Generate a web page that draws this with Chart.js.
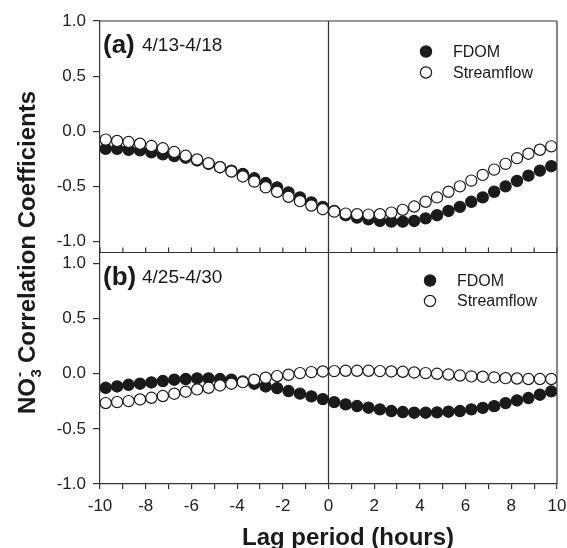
<!DOCTYPE html>
<html>
<head>
<meta charset="utf-8">
<script src="https://cdn.jsdelivr.net/npm/chart.js@4.4.0/dist/chart.umd.min.js"></script>
<style>
html, body { margin: 0; padding: 0; background: #ffffff; }
canvas { display: block; }
</style>
</head>
<body>
<canvas id="c" width="567" height="548"></canvas>
<script>
// ---------------- data ----------------
const lagHours = [-9.75, -9.25, -8.75, -8.25, -7.75, -7.25, -6.75, -6.25, -5.75, -5.25,
                  -4.75, -4.25, -3.75, -3.25, -2.75, -2.25, -1.75, -1.25, -0.75, -0.25,
                   0.25,  0.75,  1.25,  1.75,  2.25,  2.75,  3.25,  3.75,  4.25,  4.75,
                   5.25,  5.75,  6.25,  6.75,  7.25,  7.75,  8.25,  8.75,  9.25,  9.75];

const fdomA = [-0.159, -0.159, -0.168, -0.174, -0.192, -0.210, -0.226, -0.240, -0.265, -0.296,
               -0.326, -0.357, -0.387, -0.427, -0.470, -0.509, -0.555, -0.600, -0.646, -0.686,
               -0.722, -0.762, -0.784, -0.799, -0.814, -0.820, -0.820, -0.814, -0.790, -0.762,
               -0.723, -0.686, -0.640, -0.600, -0.549, -0.500, -0.451, -0.403, -0.357, -0.317];

const streamA = [-0.076, -0.088, -0.098, -0.113, -0.134, -0.155, -0.189, -0.223, -0.256, -0.290,
                 -0.326, -0.366, -0.410, -0.457, -0.509, -0.549, -0.595, -0.634, -0.674, -0.707,
                 -0.729, -0.747, -0.753, -0.756, -0.753, -0.738, -0.713, -0.683, -0.640, -0.600,
                 -0.549, -0.500, -0.448, -0.396, -0.348, -0.296, -0.244, -0.204, -0.168, -0.137];

const fdomB = [-0.127, -0.115, -0.100, -0.090, -0.079, -0.066, -0.054, -0.048, -0.042, -0.042,
               -0.048, -0.054, -0.070, -0.090, -0.115, -0.130, -0.157, -0.180, -0.205, -0.230,
               -0.257, -0.278, -0.293, -0.308, -0.323, -0.338, -0.347, -0.353, -0.353, -0.350,
               -0.344, -0.338, -0.323, -0.309, -0.294, -0.266, -0.242, -0.220, -0.190, -0.160];

const streamB = [-0.266, -0.257, -0.248, -0.233, -0.218, -0.202, -0.181, -0.163, -0.142, -0.127,
                 -0.106, -0.090, -0.076, -0.054, -0.036, -0.021, -0.009,  0.006,  0.015,  0.021,
                  0.024,  0.027,  0.027,  0.027,  0.024,  0.021,  0.018,  0.012,  0.006,  0.000,
                 -0.007, -0.016, -0.024, -0.027, -0.033, -0.040, -0.043, -0.048, -0.048, -0.048];

const xTickValues = [-10, -9, -8, -7, -6, -5, -4, -3, -2, -1, 0, 1, 2, 3, 4, 5, 6, 7, 8, 9, 10];
const xTickLabels = ['-10', '', '-8', '', '-6', '', '-4', '', '-2', '', '0', '', '2', '', '4', '', '6', '', '8', '', '10'];
const yTickValues = [-1.0, -0.5, 0.0, 0.5, 1.0];
const yTickLabels = ['-1.0', '-0.5', '0.0', '0.5', '1.0'];

const seriesNames = ['FDOM', 'Streamflow'];
const panelTags = ['(a)', '(b)'];
const panelDates = ['4/13-4/18', '4/25-4/30'];
const xTitle = 'Lag period (hours)';
const yTitleMain = 'NO';
const yTitleSub = '3';
const yTitleSup = '-';
const yTitleRest = ' Correlation Coefficients';

// ---------------- styling ----------------
const FONT = '"Liberation Sans", Arial, Helvetica, sans-serif';
const INK = '#1a1a1a';
const AXIS = '#333333';

function pts(ys) { return lagHours.map((x, i) => ({ x: x, y: ys[i] })); }

function filledSet(label, ys, axis) {
  return { label, data: pts(ys), yAxisID: axis, showLine: false, order: 1,
    pointStyle: 'circle', pointRadius: 5.6, pointHoverRadius: 5.6,
    pointBackgroundColor: INK, pointBorderColor: INK, pointBorderWidth: 1.2 };
}
function openSet(label, ys, axis) {
  return { label, data: pts(ys), yAxisID: axis, showLine: false, order: 0,
    pointStyle: 'circle', pointRadius: 5.6, pointHoverRadius: 5.6,
    pointBackgroundColor: '#ffffff', pointBorderColor: INK, pointBorderWidth: 1.2 };
}

function yScale(min, max, weight) {
  return {
    type: 'linear', position: 'left', stack: 'panels', stackWeight: 1, weight: weight,
    min: min, max: max,
    afterBuildTicks: s => { s.ticks = yTickValues.map(v => ({ value: v })); },
    afterFit: s => { s.width = 100; },
    ticks: { callback: (v) => yTickLabels[yTickValues.indexOf(v)] ?? '', color: '#222',
             font: { family: FONT, size: 17 }, padding: 7 },
    grid: { display: true, drawOnChartArea: false, drawTicks: true, tickLength: 7, color: AXIS, lineWidth: 1.2 },
    border: { display: true, color: AXIS, width: 1.2 }
  };
}

const framePlugin = {
  id: 'frame',
  beforeDatasetsDraw(chart) {
    const ctx = chart.ctx, ca = chart.chartArea, xs = chart.scales.x;
    const x0 = xs.getPixelForValue(0);
    ctx.save();
    ctx.strokeStyle = AXIS; ctx.lineWidth = 1.2;
    ctx.beginPath(); ctx.moveTo(x0, ca.top); ctx.lineTo(x0, ca.bottom); ctx.stroke();
    ctx.restore();
  },
  afterDraw(chart) {
    const ctx = chart.ctx, ca = chart.chartArea;
    const xs = chart.scales.x, ya = chart.scales.yA, yb = chart.scales.yB;
    ctx.save();
    ctx.strokeStyle = AXIS; ctx.lineWidth = 1.2;
    const line = (x1, y1, x2, y2) => { ctx.beginPath(); ctx.moveTo(x1, y1); ctx.lineTo(x2, y2); ctx.stroke(); };
    line(ca.left, ca.top, ca.right, ca.top);
    line(ca.right, ca.top, ca.right, ca.bottom);
    const yDiv = ya.bottom;
    line(ca.left, yDiv, ca.right, yDiv);
    xTickValues.forEach(v => { const px = xs.getPixelForValue(v); line(px, yDiv, px, yDiv - 5); });

    // panel labels
    ctx.fillStyle = INK;
    ctx.textAlign = 'left'; ctx.textBaseline = 'middle';
    const panels = [ya, yb];
    panels.forEach((sc, i) => {
      ctx.font = 'bold 26px ' + FONT;
      ctx.fillText(panelTags[i], ca.left + 3, sc.top + 25);
      ctx.font = '19px ' + FONT;
      ctx.fillText(panelDates[i], ca.left + 42, sc.top + 25);
    });

    // legends
    const legendPos = [
      { mx: ca.left + 326, tx: ca.left + 353, y1: ya.top + 30.5, y2: ya.top + 51.5 },
      { mx: ca.left + 330, tx: ca.left + 357, y1: yb.top + 28, y2: yb.top + 48.5 }
    ];
    legendPos.forEach(p => {
      ctx.lineWidth = 1.2; ctx.strokeStyle = INK;
      ctx.fillStyle = INK;
      ctx.beginPath(); ctx.arc(p.mx, p.y1, 5.6, 0, Math.PI * 2); ctx.fill(); ctx.stroke();
      ctx.fillStyle = '#ffffff';
      ctx.beginPath(); ctx.arc(p.mx, p.y2, 5.6, 0, Math.PI * 2); ctx.fill(); ctx.stroke();
      ctx.fillStyle = INK;
      ctx.font = '16px ' + FONT;
      ctx.fillText(seriesNames[0], p.tx, p.y1 + 1);
      ctx.fillText(seriesNames[1], p.tx, p.y2 + 1);
    });

    // x title
    ctx.font = 'bold 24px ' + FONT;
    ctx.textAlign = 'center'; ctx.textBaseline = 'alphabetic';
    ctx.fillText(xTitle, 348, 545);

    // y title (rotated)
    ctx.translate(35, (ca.top + ca.bottom) / 2);
    ctx.rotate(-Math.PI / 2);
    ctx.textAlign = 'left';
    const big = 'bold 24px ' + FONT, small = 'bold 15px ' + FONT;
    ctx.font = big; const w1 = ctx.measureText(yTitleMain).width; const w4 = ctx.measureText(yTitleRest).width;
    ctx.font = small; const w2 = ctx.measureText(yTitleSub).width;
    const total = w1 + w2 + w4;
    let x = -total / 2;
    ctx.font = big; ctx.fillText(yTitleMain, x, 0); x += w1;
    ctx.font = small; ctx.fillText(yTitleSub, x + 0.5, 6); ctx.fillText(yTitleSup, x + 1, -11); x += w2;
    ctx.font = big; ctx.fillText(yTitleRest, x, 0);
    ctx.restore();
  }
};

new Chart(document.getElementById('c'), {
  type: 'scatter',
  data: {
    datasets: [
      openSet(seriesNames[1], streamA, 'yA'),
      filledSet(seriesNames[0], fdomA, 'yA'),
      openSet(seriesNames[1], streamB, 'yB'),
      filledSet(seriesNames[0], fdomB, 'yB')
    ]
  },
  options: {
    responsive: false,
    animation: false,
    devicePixelRatio: 1,
    layout: { padding: { left: 0, right: 10, top: 21, bottom: 0 } },
    plugins: { legend: { display: false }, tooltip: { enabled: false } },
    scales: {
      x: {
        type: 'linear', position: 'bottom', min: -10, max: 10,
        afterBuildTicks: s => { s.ticks = xTickValues.map(v => ({ value: v })); },
        afterFit: s => { s.height = 64; s.paddingLeft = 0; s.paddingRight = 0; },
        ticks: { callback: (v) => xTickLabels[xTickValues.indexOf(v)] ?? '', autoSkip: false, maxRotation: 0,
                 color: '#222', font: { family: FONT, size: 17 }, padding: 7 },
        grid: { display: true, drawOnChartArea: false, drawTicks: true, tickLength: 5, color: AXIS, lineWidth: 1.2 },
        border: { display: true, color: AXIS, width: 1.2 }
      },
      yB: yScale(-1.0, 1.1, 1),
      yA: yScale(-1.1, 1.0, 2)
    }
  },
  plugins: [framePlugin]
});
</script>
</body>
</html>
